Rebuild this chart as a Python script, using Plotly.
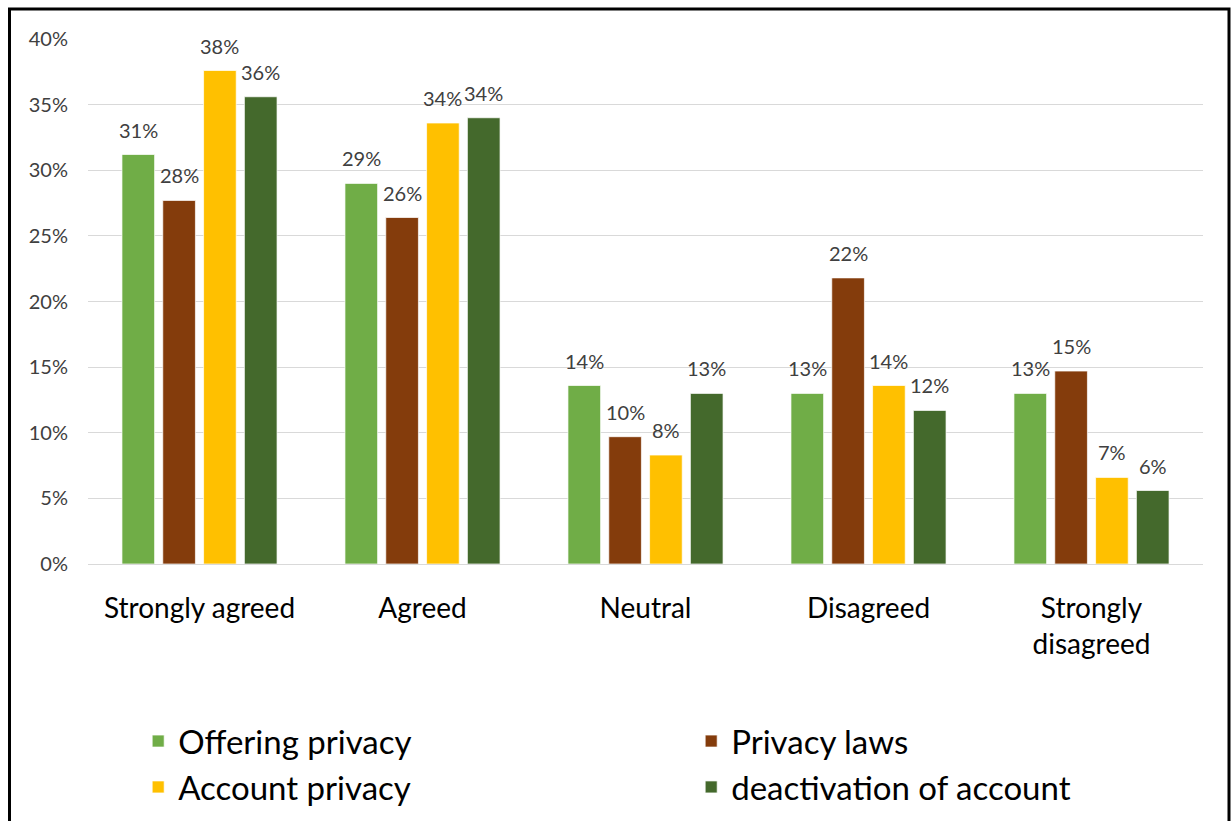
import plotly.graph_objects as go

# Survey responses (% of respondents) per attitude level
categories = ["Strongly agreed", "Agreed", "Neutral", "Disagreed", "Strongly<br>disagreed"]
offering_privacy = [31.2, 29.0, 13.6, 13.0, 13.0]
privacy_laws = [27.7, 26.4, 9.7, 21.8, 14.7]
account_privacy = [37.6, 33.6, 8.3, 13.6, 6.6]
deactivation_of_account = [35.6, 34.0, 13.0, 11.7, 5.6]

series_names = ["Offering privacy", "Privacy laws", "Account privacy", "deactivation of account"]
series_values = [offering_privacy, privacy_laws, account_privacy, deactivation_of_account]
series_colors = ["#70AD47", "#843C0C", "#FFC000", "#44692C"]

FONT = "Lato"
W, H = 1231, 821
M_L, M_R, M_T, M_B = 88, 28, 39, 257
BARGAP, BARGROUPGAP = 0.268, 0.2

fig = go.Figure()
for name, vals, col in zip(series_names, series_values, series_colors):
    fig.add_trace(go.Bar(
        x=categories, y=vals, name=name,
        marker=dict(color=col, line=dict(color="rgba(255,255,255,0.7)", width=1)),
        hoverinfo="skip",
    ))

# value labels above each bar, shifted to the bar's slot within its group
plot_w = W - M_L - M_R
plot_h = H - M_T - M_B
slot_px = plot_w / len(categories) * (1 - BARGAP) / len(series_names)
n = len(series_names)
for i, vals in enumerate(series_values):
    xshift = (i - (n - 1) / 2) * slot_px
    for cat, v in zip(categories, vals):
        fig.add_annotation(
            x=cat, y=v, text=f"{v:.0f}%", showarrow=False,
            xshift=xshift, yshift=25, yanchor="middle",
            font=dict(family=FONT, size=20, color="#404040"),
        )

# chart frame
fig.add_shape(
    type="rect", xref="paper", yref="paper",
    x0=(9.5 - M_L) / plot_w, x1=(1229 - M_L) / plot_w,
    y0=(H - M_B - 830) / plot_h, y1=(H - M_B - 9) / plot_h,
    line=dict(color="black", width=3), fillcolor="rgba(0,0,0,0)", layer="above",
)

fig.update_layout(
    width=W, height=H,
    margin=dict(l=M_L, r=M_R, t=M_T, b=M_B, autoexpand=False),
    paper_bgcolor="white", plot_bgcolor="white",
    barmode="group", bargap=BARGAP, bargroupgap=BARGROUPGAP,
    font=dict(family=FONT, color="#000000"),
    showlegend=True,
    legend=dict(
        orientation="h", x=0.045, xanchor="left", y=-0.284, yanchor="top",
        entrywidth=508, entrywidthmode="pixels",
        bgcolor="rgba(0,0,0,0)",
        font=dict(family=FONT, size=33, color="#000000"),
        traceorder="normal",
    ),
)
fig.update_yaxes(
    range=[0, 40], dtick=5, ticksuffix="%",
    showgrid=True, gridcolor="#D9D9D9", gridwidth=1,
    zeroline=False, showline=False, ticks="",
    tickfont=dict(family=FONT, size=20, color="#404040"),
    ticklabelstandoff=19,
)
fig.update_xaxes(
    showline=True, linecolor="#D9D9D9", linewidth=1,
    ticks="", showgrid=False,
    tickfont=dict(family=FONT, size=28, color="#000000"),
    ticklabelstandoff=19,
)

fig.write_html("out.html")
